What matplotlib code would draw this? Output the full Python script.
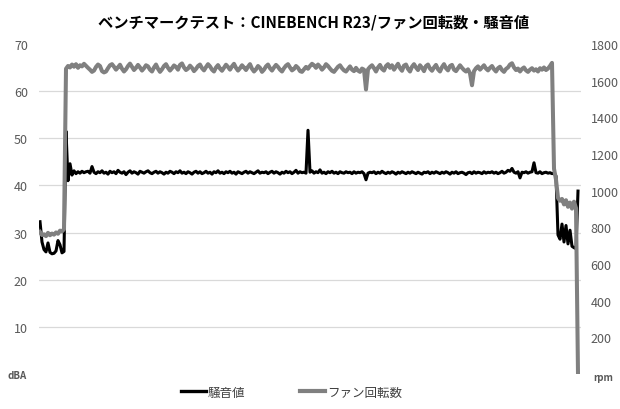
import matplotlib
matplotlib.use('Agg')
import matplotlib.pyplot as plt
from matplotlib.lines import Line2D

plt.rcParams['font.family'] = ['Noto Sans CJK JP', 'DejaVu Sans']

TITLE = 'ベンチマークテスト：CINEBENCH R23/ファン回転数・騒音値'
NOISE_LABEL = '騒音値'
FAN_LABEL = 'ファン回転数'

# noise level (dBA), one sample per step
noise = [
    32.3, 28.0, 26.4, 25.9, 27.8, 25.8, 25.5, 25.6, 26.1, 28.3, 27.4, 25.7, 26.0, 51.5,
    41.0, 44.6, 42.2, 43.1, 42.5, 42.9, 42.6, 43.0, 42.7, 42.9,
    43.0, 42.6, 44.0, 42.8, 42.5, 42.9, 42.7, 43.1, 42.6, 42.8,
    42.4, 43.0, 42.7, 42.9, 42.5, 43.2, 42.8, 42.6, 42.9, 42.3,
    42.8, 43.1, 42.6, 42.9, 42.7, 42.4, 43.0, 42.8, 42.6, 42.9,
    43.1, 42.7, 42.5, 42.8, 43.0, 42.6, 42.9, 42.7, 42.4, 42.8,
    42.6, 43.0, 42.8, 42.5, 42.9, 42.7, 43.1, 42.6, 42.8, 42.5,
    42.9, 42.7, 42.4, 42.8, 43.0, 42.6, 42.9, 42.5, 42.7, 43.0,
    42.6, 42.8, 42.4, 42.9, 42.7, 43.1, 42.6, 42.8, 42.5, 42.9,
    42.7, 43.0, 42.6, 42.8, 42.4, 42.9, 42.7, 42.5, 42.8, 43.0,
    42.6, 42.9, 42.7, 42.5, 42.8, 43.1, 42.6, 42.8, 42.7, 42.9,
    42.5, 42.8, 43.0, 42.6, 42.9, 42.7, 42.4, 42.8, 42.6, 43.0,
    42.7, 42.9, 42.5, 42.8, 43.2, 42.6, 42.9, 42.7, 42.8, 42.6,
    51.7,
    42.8, 43.1, 42.6, 42.9, 42.7, 43.3, 42.6, 42.8, 42.5, 42.9,
    42.7, 43.0, 42.6, 42.8, 42.5, 42.9, 42.7, 42.6, 42.9, 42.7,
    42.8, 42.5, 42.9, 42.6, 42.8, 42.7, 42.9, 42.5, 41.2, 42.6,
    42.8, 42.7, 42.9, 42.5, 42.8, 42.6, 43.0, 42.7, 42.5, 42.8,
    42.6, 42.9, 42.7, 42.4, 42.8, 42.6, 42.9, 42.7, 42.5, 42.8,
    42.6, 42.9, 42.7, 42.5, 42.8, 42.6, 42.4, 42.8, 42.7, 42.9,
    42.5, 42.8, 42.6, 42.9, 42.7, 42.5, 42.8, 42.6, 42.9, 42.7,
    42.4, 42.8, 42.6, 42.9, 42.5, 42.7, 42.8, 42.6, 42.3, 42.7,
    42.8, 42.5, 42.9, 42.6, 42.8, 42.7, 42.5, 42.9, 42.6, 42.8,
    42.7, 42.9, 42.6, 42.8, 42.5, 42.7, 43.0, 42.6, 42.8, 43.2,
    43.0, 43.6, 42.8, 42.6, 42.9, 41.6, 42.8, 42.7, 42.9, 42.6,
    42.8, 42.9, 44.8, 42.7, 42.6, 42.9, 42.5, 42.7, 42.8, 42.6,
    42.7, 42.5, 42.6,
    42.0, 29.5, 28.6, 31.8, 28.0, 31.5, 27.6, 30.5, 27.1, 26.8, 26.6, 38.8,
]

# fan speed (rpm), same sampling
fan = [
    775, 758, 762, 752, 770, 757, 766, 760, 772, 765, 782, 778, 790,
    1665, 1680, 1672, 1688, 1676, 1690, 1670, 1684, 1678, 1692,
    1681, 1670, 1660, 1648, 1655, 1675, 1688, 1680, 1652, 1645,
    1650, 1668, 1684, 1690, 1676, 1660, 1673, 1687, 1665, 1650,
    1662, 1680, 1693, 1675, 1658, 1670, 1686, 1672, 1655, 1668,
    1684, 1678, 1660, 1650, 1672, 1688, 1665, 1648, 1662, 1680,
    1690, 1670, 1655, 1668, 1683, 1675, 1660, 1686, 1694, 1672,
    1658, 1666, 1682, 1670, 1652, 1664, 1680, 1688, 1668, 1656,
    1674, 1690, 1678, 1660, 1650, 1672, 1685, 1666, 1654, 1670,
    1687, 1675, 1660, 1678, 1692, 1670, 1655, 1668, 1684, 1672,
    1658, 1676, 1690, 1665, 1650, 1662, 1680, 1670, 1648, 1660,
    1678, 1688, 1668, 1655, 1672, 1686, 1675, 1660, 1650, 1668,
    1682, 1690, 1672, 1656, 1664, 1680, 1670, 1652, 1648, 1662,
    1675, 1665, 1680, 1692, 1684, 1670, 1688, 1676, 1660, 1672,
    1690, 1680, 1666, 1654, 1648, 1662, 1676, 1684, 1668, 1656,
    1650, 1664, 1678, 1660, 1652, 1670, 1655, 1648, 1666, 1660,
    1552,
    1662, 1675, 1684, 1668, 1650, 1672, 1686, 1664, 1655, 1680,
    1690, 1670, 1684, 1660, 1676, 1692, 1668, 1654, 1682, 1688,
    1664, 1650, 1676, 1690, 1672, 1658, 1684, 1670, 1652, 1680,
    1688, 1666, 1654, 1672, 1686, 1662, 1650, 1674, 1690, 1668,
    1656, 1680, 1686, 1660, 1652, 1668, 1684, 1670, 1658, 1650,
    1662, 1640,
    1575,
    1652, 1668, 1678, 1660, 1672, 1684, 1666, 1656, 1670, 1680,
    1662, 1650, 1668, 1676, 1658, 1648, 1664, 1672, 1688, 1695,
    1672, 1658, 1666, 1650, 1664, 1672, 1656, 1648, 1660, 1668,
    1655, 1662, 1650, 1668, 1660, 1672, 1658, 1666, 1680, 1697,
    1120, 1060, 960, 945, 955, 925, 948, 912, 935, 902, 940, 905, 0,
]

left_ticks = [10, 20, 30, 40, 50, 60, 70]
right_ticks = [200, 400, 600, 800, 1000, 1200, 1400, 1600, 1800]
grid_levels = [10, 20, 30, 40, 50, 60]

LABEL_COLOR = '#595959'

fig = plt.figure(figsize=(6.2, 4.1), dpi=100)
ax = fig.add_axes([39 / 620, 1 - 375 / 410, 542 / 620, 330 / 410])
ax2 = ax.twinx()

xs = list(range(len(noise)))
for g in grid_levels:
    ax.axhline(g, color='#d9d9d9', lw=0.9, zorder=0)
ax.plot(xs, noise, color='black', lw=2.2, solid_joinstyle='round')
ax2.plot(list(range(len(fan))), fan, color='#808080', lw=2.9, solid_joinstyle='round')

ax.set_xlim(-0.5, len(noise) + 0.5)
ax.set_ylim(0, 70)
ax2.set_ylim(0, 1800)
ax.set_yticks(left_ticks)
ax2.set_yticks(right_ticks)
ax.set_xticks([])
ax.tick_params(axis='y', length=0, pad=8, labelsize=9, labelcolor=LABEL_COLOR)
ax2.tick_params(axis='y', length=0, pad=7, labelsize=9, labelcolor=LABEL_COLOR)
for a in (ax, ax2):
    for s in a.spines.values():
        s.set_visible(False)

# unit labels sit where the zero tick would be
fig.text(27 / 620, 1 - 376 / 410, 'dBA', ha='right', va='center', fontsize=7,
         fontweight='bold', color=LABEL_COLOR)
fig.text(593 / 620, 1 - 378 / 410, 'rpm', ha='left', va='center', fontsize=7,
         fontweight='bold', color=LABEL_COLOR)

fig.text(0.505, 1 - 23 / 410, TITLE, ha='center', va='center', fontsize=11,
         fontweight='bold', color='black')

handles = [Line2D([], [], color='black', lw=2.4), Line2D([], [], color='#808080', lw=3.0)]
fig.legend(handles, [NOISE_LABEL, FAN_LABEL], loc='center', bbox_to_anchor=(0.47, 1 - 393 / 410),
           ncol=2, frameon=False, fontsize=9, handlelength=2.0, handletextpad=0.15,
           columnspacing=4.4, labelcolor='#404040')

fig.savefig('out.png', dpi=100)
